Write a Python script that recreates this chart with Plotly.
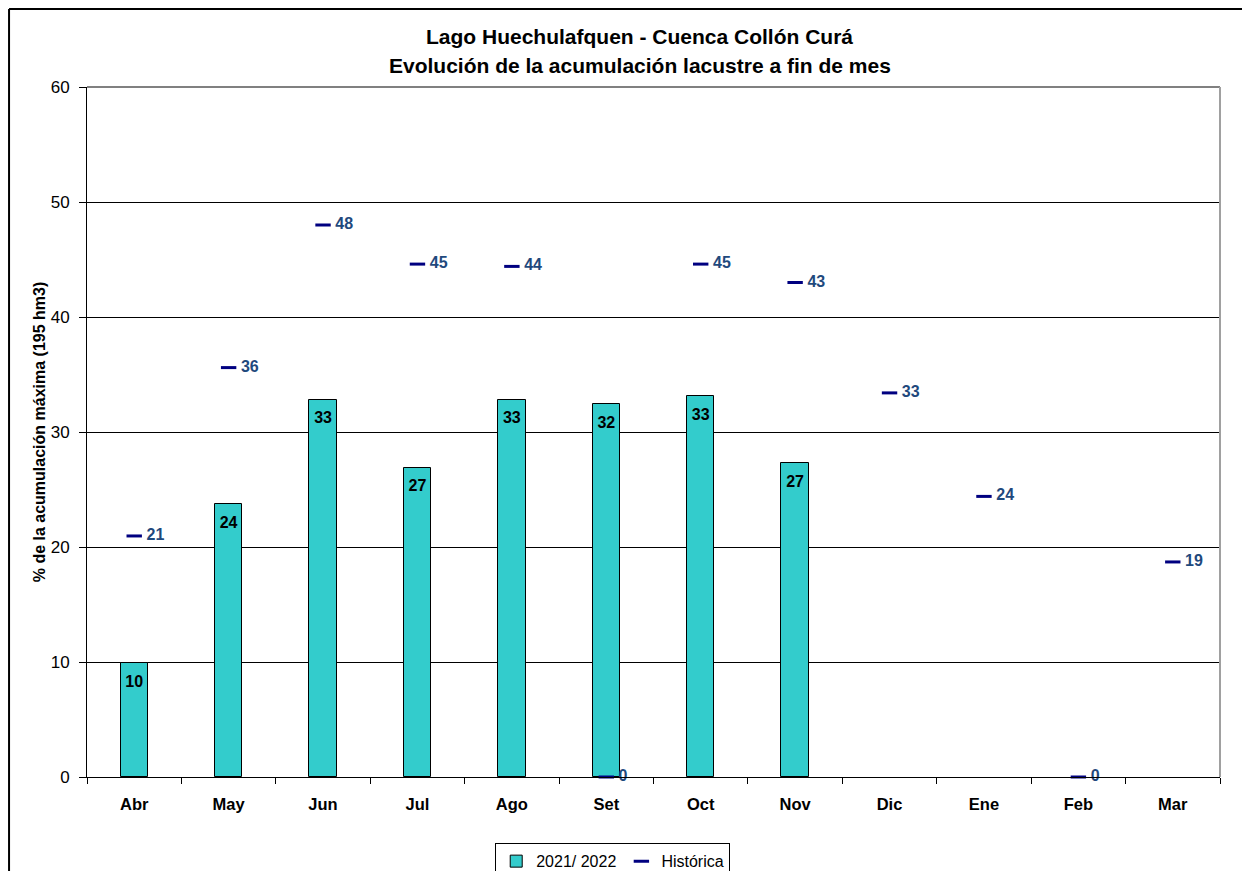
import plotly.graph_objects as go

months = ["Abr", "May", "Jun", "Jul", "Ago", "Set", "Oct", "Nov", "Dic", "Ene", "Feb", "Mar"]
actual_2021_2022 = [9.9, 23.7, 32.8, 26.9, 32.8, 32.4, 33.1, 27.3, None, None, None, None]
historica = [20.96, 35.6, 48.0, 44.6, 44.4, 0.0, 44.6, 43.0, 33.4, 24.4, 0.0, 18.7]

title_line1 = "Lago Huechulafquen - Cuenca Collón Curá"
title_line2 = "Evolución de la acumulación lacustre a fin de mes"
y_title = "% de la acumulación máxima (195 hm3)"
y_ticks = [0, 10, 20, 30, 40, 50, 60]

FONT = "Liberation Sans, Arial, sans-serif"


def lab(v):
    return "" if v is None else str(int(round(v)))


fig = go.Figure()

fig.add_trace(go.Bar(
    x=months,
    y=actual_2021_2022,
    name="2021/ 2022",
    width=0.29,
    marker=dict(color="#33CCCC", line=dict(color="#000000", width=1)),
    hoverinfo="x+y",
))

# value labels for the bars (inside, just under the bar top)
fig.add_trace(go.Scatter(
    x=months,
    y=actual_2021_2022,
    mode="markers+text",
    marker=dict(size=17, color="rgba(0,0,0,0)"),
    text=[lab(v) for v in actual_2021_2022],
    textposition="bottom center",
    textfont=dict(family=FONT, size=16, color="#000000", weight="bold"),
    showlegend=False,
    hoverinfo="skip",
    cliponaxis=False,
))

fig.add_trace(go.Scatter(
    x=months,
    y=historica,
    name="Histórica",
    mode="markers+text",
    marker=dict(symbol="line-ew", size=11, color="#000080",
                line=dict(color="#000080", width=3)),
    text=[" " + lab(v) for v in historica],
    textposition="middle right",
    textfont=dict(family=FONT, size=16, color="#1F497D", weight="bold"),
    cliponaxis=False,
))

fig.update_layout(
    width=1242,
    height=863,
    margin=dict(l=79, r=30, t=79, b=94, autoexpand=False),
    paper_bgcolor="#FFFFFF",
    plot_bgcolor="#FFFFFF",
    font=dict(family=FONT, color="#000000"),
    showlegend=True,
    legend=dict(
        orientation="h",
        x=0.464, xanchor="center",
        y=-0.096, yanchor="top",
        bordercolor="#000000", borderwidth=1,
        bgcolor="#FFFFFF",
        font=dict(family=FONT, size=16, color="#000000"),
        itemwidth=30,
        traceorder="normal",
    ),
    bargap=0.0,
    annotations=[
        dict(text=title_line1, xref="paper", yref="paper", x=0.488, y=1.0725,
             xanchor="center", yanchor="middle", showarrow=False,
             font=dict(family=FONT, size=21, color="#000000", weight="bold")),
        dict(text=title_line2, xref="paper", yref="paper", x=0.488, y=1.0305,
             xanchor="center", yanchor="middle", showarrow=False,
             font=dict(family=FONT, size=21, color="#000000", weight="bold")),
    ],
    shapes=[
        dict(type="line", xref="paper", yref="paper", x0=0, x1=1, y0=1, y1=1,
             line=dict(color="#808080", width=2)),
        dict(type="line", xref="paper", yref="paper", x0=1, x1=1, y0=0, y1=1,
             line=dict(color="#A0A0A0", width=2)),
        dict(type="line", xref="paper", yref="paper", x0=-0.0688, x1=-0.0688, y0=-0.14, y1=1.113,
             line=dict(color="#000000", width=2)),
        dict(type="line", xref="paper", yref="paper", x0=-0.0688, x1=1.03, y0=1.113, y1=1.113,
             line=dict(color="#000000", width=2)),
    ],
)

fig.update_xaxes(
    type="category",
    categoryorder="array",
    categoryarray=months,
    range=[-0.5, 11.5],
    automargin=False,
    showline=True, linecolor="#000000", linewidth=1,
    ticks="outside", tickson="boundaries", ticklen=6, tickcolor="#000000",
    showgrid=False,
    tickfont=dict(family=FONT, size=16.5, color="#000000", weight="bold"),
    ticklabelstandoff=12,
    zeroline=False,
)

fig.update_yaxes(
    range=[0, 60],
    tickvals=y_ticks,
    automargin=False,
    showline=True, linecolor="#000000", linewidth=1,
    ticks="outside", ticklen=7, tickcolor="#000000",
    showgrid=True, gridcolor="#000000", gridwidth=1,
    tickfont=dict(family=FONT, size=17, color="#000000"),
    ticklabelstandoff=6,
    zeroline=False,
    title=dict(text=y_title, standoff=1,
               font=dict(family=FONT, size=16, color="#000000", weight="bold")),
)

fig.write_html("out.html")
